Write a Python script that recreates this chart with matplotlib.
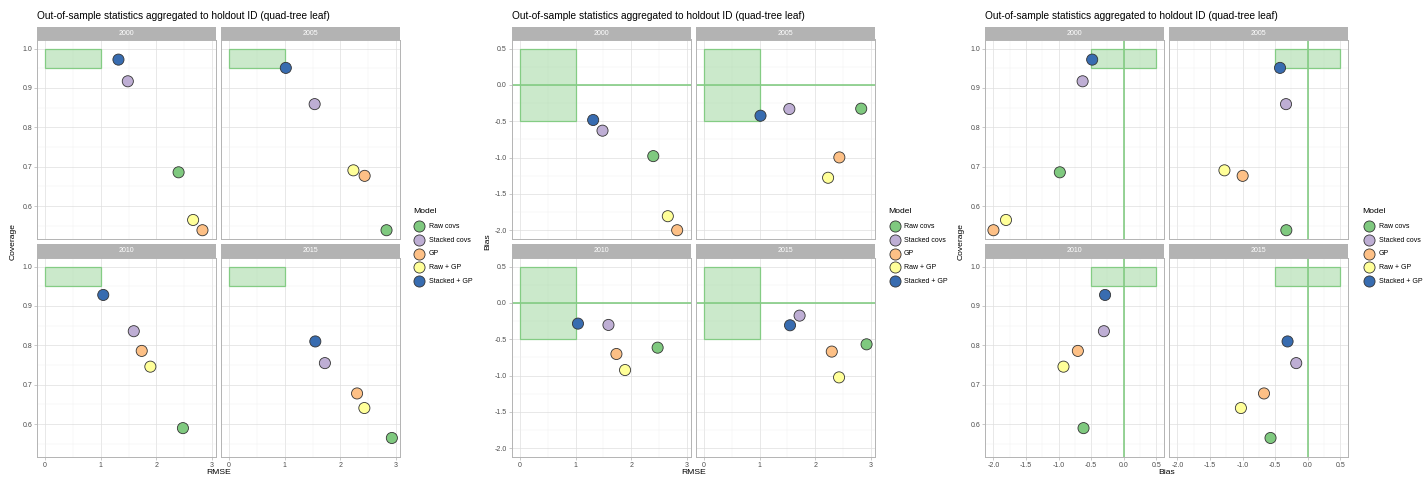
import matplotlib
matplotlib.use("Agg")
import matplotlib.pyplot as plt
from matplotlib.patches import Rectangle
from matplotlib.ticker import MultipleLocator, FormatStrFormatter

plt.rcParams['font.family'] = ['Liberation Sans', 'DejaVu Sans']
plt.rcParams['axes.unicode_minus'] = False

# data
years = [2000, 2005, 2010, 2015]
models = ['Raw covs', 'Stacked covs', 'GP', 'Raw + GP', 'Stacked + GP']
colors = ['#7FC97F', '#BEAED4', '#FDC086', '#FFFF99', '#386CB0']

rmse = [
    [2.397, 1.485, 2.826, 2.658, 1.317],
    [2.827, 1.536, 2.434, 2.232, 1.018],
    [2.475, 1.592, 1.735, 1.890, 1.044],
    [2.923, 1.720, 2.298, 2.429, 1.548],
]
bias = [
    [-0.980, -0.630, -2.000, -1.807, -0.483],
    [-0.327, -0.332, -0.998, -1.278, -0.424],
    [-0.616, -0.303, -0.703, -0.924, -0.285],
    [-0.570, -0.175, -0.670, -1.025, -0.308],
]
coverage = [
    [0.686, 0.917, 0.539, 0.565, 0.972],
    [0.539, 0.859, 0.677, 0.691, 0.951],
    [0.590, 0.836, 0.786, 0.746, 0.928],
    [0.565, 0.755, 0.678, 0.641, 0.810],
]

title = 'Out-of-sample statistics aggregated to holdout ID (quad-tree leaf)'

W, H = 1423, 478
fig = plt.figure(figsize=(W / 100, H / 100), dpi=100)

GREY70 = '#B3B3B3'
SMALL = 5.0
MID = 6.1


def box(x0, y0, x1, y1):
    return [x0 / W, 1 - y1 / H, (x1 - x0) / W, (y1 - y0) / H]


def expand(vals):
    lo, hi = min(vals), max(vals)
    d = (hi - lo) * 0.05
    return lo - d, hi + d


# each sub plot: x data, y data, labels, target box, ref lines, ticks
plots = [
    dict(x=rmse, y=coverage, xlab='RMSE', ylab='Coverage',
         rect=(0, 1, 0.95, 1.0), hline=None, vline=None,
         xmaj=1, ymaj=0.1, xfmt='%d', yfmt='%.1f', left=37, legx=413),
    dict(x=rmse, y=bias, xlab='RMSE', ylab='Bias',
         rect=(0, 1, -0.5, 0.5), hline=0, vline=None,
         xmaj=1, ymaj=0.5, xfmt='%d', yfmt='%.1f', left=511.7, legx=888),
    dict(x=bias, y=coverage, xlab='Bias', ylab='Coverage',
         rect=(-0.5, 0.5, 0.95, 1.0), hline=None, vline=0,
         xmaj=0.5, ymaj=0.1, xfmt='%.1f', yfmt='%.1f', left=985.3, legx=1362.7),
]

pw, gap = 179, 5
rows = [(26.7, 39.5, 239.3), (244.3, 257.5, 457.3)]

for p in plots:
    xr = p['rect']
    allx = [v for r in p['x'] for v in r] + [xr[0], xr[1]]
    ally = [v for r in p['y'] for v in r] + [xr[2], xr[3]]
    xlim = expand(allx)
    ylim = expand(ally)
    left = p['left']
    for k, yr in enumerate(years):
        r, c = divmod(k, 2)
        x0 = left + c * (pw + gap)
        s0, s1, p1 = rows[r]
        # strip
        sax = fig.add_axes(box(x0, s0, x0 + pw, s1))
        sax.set_facecolor(GREY70)
        sax.set_xticks([])
        sax.set_yticks([])
        for sp in sax.spines.values():
            sp.set_visible(False)
        sax.text(0.5, 0.5, str(yr), color='white', fontsize=SMALL,
                 ha='center', va='center', transform=sax.transAxes)
        # panel
        ax = fig.add_axes(box(x0, s1, x0 + pw, p1))
        ax.set_xlim(xlim)
        ax.set_ylim(ylim)
        ax.xaxis.set_major_locator(MultipleLocator(p['xmaj']))
        ax.xaxis.set_minor_locator(MultipleLocator(p['xmaj'] / 2))
        ax.yaxis.set_major_locator(MultipleLocator(p['ymaj']))
        ax.yaxis.set_minor_locator(MultipleLocator(p['ymaj'] / 2))
        ax.xaxis.set_major_formatter(FormatStrFormatter(p['xfmt']))
        ax.yaxis.set_major_formatter(FormatStrFormatter(p['yfmt']))
        ax.grid(which='major', color='#DEDEDE', lw=0.5)
        ax.grid(which='minor', color='#EFEFEF', lw=0.35)
        ax.set_axisbelow(True)
        for sp in ax.spines.values():
            sp.set_color(GREY70)
            sp.set_linewidth(0.7)
        ax.tick_params(which='both', length=0)
        ax.tick_params(which='major', length=2, width=0.5, color=GREY70,
                       labelsize=SMALL, labelcolor='#4D4D4D', pad=1.5)
        if c == 1:
            ax.tick_params(axis='y', which='major', length=0, labelleft=False)
        if r == 0:
            ax.tick_params(axis='x', which='major', length=0, labelbottom=False)

        ax.add_patch(Rectangle((xr[0], xr[2]), xr[1] - xr[0], xr[3] - xr[2],
                               facecolor='#7FC97F', alpha=0.4, edgecolor='none',
                               zorder=2))
        ax.add_patch(Rectangle((xr[0], xr[2]), xr[1] - xr[0], xr[3] - xr[2],
                               facecolor='none', edgecolor='#84CC84', lw=0.9,
                               zorder=2))
        if p['hline'] is not None:
            ax.axhline(p['hline'], color='#84CC84', lw=1.2, zorder=2)
        if p['vline'] is not None:
            ax.axvline(p['vline'], color='#84CC84', lw=1.2, zorder=2)
        ax.scatter(p['x'][k], p['y'][k], s=64, c=colors, edgecolors='#333333',
                   linewidths=0.6, zorder=3)

    # title and axis titles
    fig.text(left / W, 1 - 15.7 / H, title, fontsize=7.3, ha='left',
             va='center', color='black')
    cx = left + pw + gap / 2
    fig.text(cx / W, 1 - 473 / H, p['xlab'], fontsize=MID, ha='center',
             va='center')
    fig.text((left - 24) / W, 1 - 242 / H, p['ylab'], fontsize=MID,
             ha='center', va='center', rotation=90)

    # legend
    lx = p['legx']
    fig.text(lx / W, 1 - 212 / H, 'Model', fontsize=MID, ha='left',
             va='center')
    for i, (m, col) in enumerate(zip(models, colors)):
        yy = 226.3 + i * 13.7
        kax = fig.add_axes(box(lx, yy - 6, lx + 13, yy + 6))
        kax.set_xlim(0, 1)
        kax.set_ylim(0, 1)
        kax.axis('off')
        kax.scatter([0.5], [0.5], s=64, c=[col], edgecolors='#333333',
                    linewidths=0.6)
        fig.text((lx + 16) / W, 1 - yy / H, m, fontsize=SMALL, ha='left',
                 va='center', color='black')

fig.savefig('out.png', dpi=100)
